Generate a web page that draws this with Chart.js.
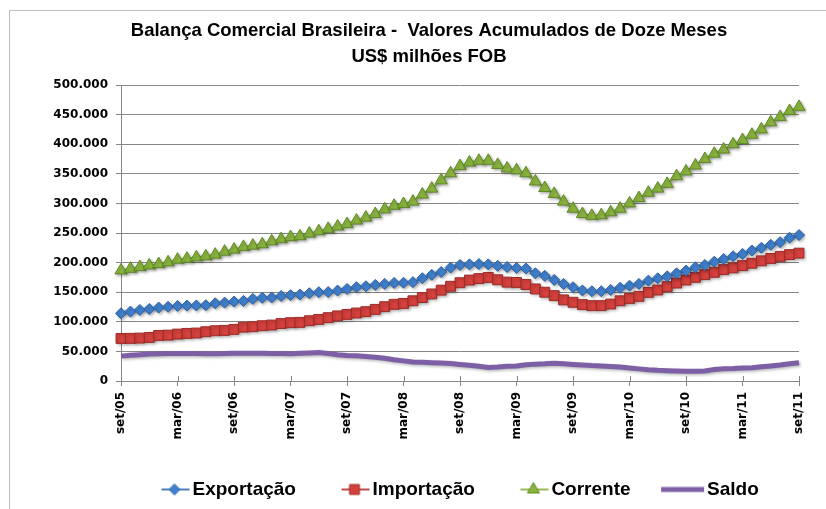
<!DOCTYPE html>
<html>
<head>
<meta charset="utf-8">
<script src="https://cdn.jsdelivr.net/npm/chart.js@4.4.1/dist/chart.umd.min.js"></script>
<style>
  html, body { margin: 0; padding: 0; background: #fff; }
  #wrap { width: 826px; height: 509px; position: relative; }
</style>
</head>
<body>
<div id="wrap"><canvas id="chart"></canvas></div>
<script>
// US$ milhões FOB, acumulado de 12 meses, set/05 .. set/11
const monthNames = ['set', 'out', 'nov', 'dez', 'jan', 'fev', 'mar', 'abr', 'mai', 'jun', 'jul', 'ago'];

const exportacao = [
  114300, 117200, 120000, 121700, 124000, 125300, 126800, 127400, 127600, 128000, 131300, 132400,
  134100, 135300, 138700, 140500, 141000, 143500,
  145000, 146000, 148200, 149900, 150200, 152700,
  155500, 158400, 160000, 162300, 164000, 165700,
  166000, 167000, 173600, 179300, 184000, 191500,
  196000, 197000, 197500, 197000, 194500, 192500,
  191000, 190000, 182000, 177600, 170800, 164000,
  158400, 153000, 151600, 151600, 153800, 157500,
  161000, 164000, 169500, 173500, 176800, 181900,
  186500, 192000, 196000, 201500, 206000, 210700,
  214700, 220400, 225000, 230000, 234500, 242000,
  246500
];

const importacao = [
  71900, 72000, 72500, 73600, 77000, 77500, 79200, 80400, 81000, 83200, 84900, 85500,
  87200, 91000, 91700, 93400, 94500, 97000,
  98500, 99000, 101800, 104000, 107000, 110000,
  112500, 114800, 117100, 121000, 125500, 129500,
  131000, 135500, 141000, 147000, 153500, 160000,
  166000, 170500, 173000, 175000, 171000, 167000,
  166500, 163000, 155500, 150000, 144200, 137000,
  133000, 129000, 127300, 127300, 130000, 135500,
  139500, 143000, 149700, 153700, 159300, 165500,
  170600, 175200, 179700, 183600, 188100, 191000,
  194900, 198900, 203000, 207000, 210500, 213500,
  216000
];

const corrente = [
  186800, 189600, 192400, 195300, 197500, 200400, 204900, 206600, 208900, 210600, 213400, 218500,
  222000, 226500, 228700, 231000, 236000, 239500,
  243000, 244500, 249000, 253000, 257000, 261000,
  265000, 271000, 276000, 282000, 290000, 296000,
  299000, 303000, 315000, 325000, 339000, 351000,
  363000, 369000, 372000, 372000, 365000, 359000,
  356000, 351000, 337000, 326000, 316000, 303000,
  291000, 282000, 279000, 280000, 285000, 291000,
  300000, 309000, 318000, 325000, 333000, 346000,
  354000, 364000, 375000, 384000, 391000, 400000,
  407000, 416000, 425000, 437000, 446000, 456000,
  463000
];

const saldo = [
  42000, 43500, 44500, 45500, 46000, 46500, 46500, 46500, 46500, 46000, 46000, 46500,
  47000, 47000, 47000, 47000, 46500, 46500,
  46000, 47000, 47500, 48000, 46500, 44500,
  43000, 42500, 41500, 40000, 38500, 36000,
  34000, 32000, 31500, 31000, 30500, 29500,
  28000, 26500, 25000, 23000, 23500, 25000,
  25500, 27500, 28500, 29000, 30000, 29000,
  28000, 27000, 26000, 25500, 24500, 23500,
  22000, 20500, 19000, 18000, 17500, 17000,
  16500, 16500, 17000, 19500, 20500, 21000,
  22000, 22500, 24000, 25500, 27000, 29000,
  31000
];

const labels = [];
for (let i = 0; i < exportacao.length; i++) {
  const yr = 5 + Math.floor((i + 8) / 12);
  labels.push(monthNames[i % 12] + '/' + String(yr).padStart(2, '0'));
}

const titleLines = ['Balança Comercial Brasileira -  Valores Acumulados de Doze Meses', 'US$ milhões FOB'];

const gridColor = '#868686';
const tickFont = { family: "'DejaVu Sans', sans-serif", size: 12, weight: 'bold' };

function fmt(v) {
  return v === 0 ? '0' : String(v).replace(/\B(?=(\d{3})+(?!\d))/g, '.');
}

// legend swatch: series line with the marker, like Excel draws it
function legendIcon(ds) {
  const c = document.createElement('canvas');
  c.width = 72;
  c.height = 18;
  const g = c.getContext('2d');
  const marker = ds.pointRadius > 0;
  g.strokeStyle = ds.borderColor;
  g.lineWidth = ds.borderWidth;
  g.beginPath();
  g.moveTo(marker ? 43 : 28, 9);
  g.lineTo(71, 9);
  g.stroke();
  if (marker) {
    g.fillStyle = ds.pointBackgroundColor;
    g.strokeStyle = ds.pointBorderColor;
    g.lineWidth = 1;
    Chart.helpers.drawPoint(g, { pointStyle: ds.pointStyle, radius: ds.pointRadius, borderWidth: 1 }, 56, 9);
  }
  return c;
}

const frame = {
  id: 'frame',
  beforeDraw(chart) {
    const ctx = chart.ctx;
    ctx.save();
    ctx.fillStyle = '#fff';
    ctx.fillRect(0, 0, chart.width, chart.height);
    ctx.strokeStyle = '#bfbfbf';
    ctx.lineWidth = 1;
    ctx.strokeRect(9.5, 10.5, 1000, 1000);
    ctx.restore();
  },
  afterLayout(chart) {
    // title and legend sit a bit right of the canvas centre, as in the original
    chart.titleBlock.left = 59;
    chart.legend.left = 116;
  },
  beforeDatasetsDraw(chart) {
    const ctx = chart.ctx;
    const x = chart.scales.x;
    ctx.save();
    ctx.strokeStyle = gridColor;
    ctx.lineWidth = 1;
    x.ticks.forEach((t, i) => {
      if (i % 6) return;
      const px = Math.round(x.getPixelForTick(i)) + 0.5;
      ctx.beginPath();
      ctx.moveTo(px, x.top - 5);
      ctx.lineTo(px, x.top);
      ctx.stroke();
    });
    ctx.restore();
    ctx.save();
    ctx.shadowColor = 'rgba(0,0,0,0.28)';
    ctx.shadowBlur = 3;
    ctx.shadowOffsetX = 1.5;
    ctx.shadowOffsetY = 1.5;
  },
  afterDatasetsDraw(chart) {
    chart.ctx.restore();
  },
};

const datasets = [
  {
    label: 'Exportação',
    data: exportacao,
    borderColor: '#4a7ebb',
    borderWidth: 2,
    pointStyle: 'rectRot',
    pointRadius: 5.5,
    pointBackgroundColor: '#3f7fcc',
    pointBorderColor: '#2f62a3',
    pointBorderWidth: 1,
  },
  {
    label: 'Importação',
    data: importacao,
    borderColor: '#be4b48',
    borderWidth: 2,
    pointStyle: 'rect',
    pointRadius: 7,
    pointBackgroundColor: '#d5413d',
    pointBorderColor: '#9c2b28',
    pointBorderWidth: 1,
  },
  {
    label: 'Corrente',
    data: corrente,
    borderColor: '#98b954',
    borderWidth: 2,
    pointStyle: 'triangle',
    pointRadius: 7,
    pointBackgroundColor: '#8bb43f',
    pointBorderColor: '#5e8a24',
    pointBorderWidth: 1,
  },
  {
    label: 'Saldo',
    data: saldo,
    borderColor: '#7d5fa5',
    borderWidth: 5,
    pointRadius: 0,
  },
];
datasets.forEach((d) => { d.tension = 0; d.fill = false; d.pointHoverRadius = d.pointRadius; });

new Chart(document.getElementById('chart'), {
  type: 'line',
  data: { labels, datasets },
  plugins: [frame],
  options: {
    responsive: true,
    maintainAspectRatio: false,
    animation: false,
    devicePixelRatio: 1,
    layout: { padding: { top: 10, right: 27, bottom: 0, left: 0 } },
    plugins: {
      tooltip: { enabled: false },
      title: {
        display: true,
        text: titleLines,
        color: '#000',
        font: { family: "'Liberation Sans', sans-serif", size: 18.5, weight: 'bold', lineHeight: '26px' },
        padding: { top: 8, bottom: 15 },
      },
      legend: {
        position: 'bottom',
        align: 'start',
        labels: {
          usePointStyle: true,
          pointStyleWidth: 57,
          padding: 10,
          color: '#000',
          font: { family: "'Liberation Sans', sans-serif", size: 19, weight: 'bold' },
          generateLabels: (chart) => chart.data.datasets.map((ds, i) => ({
            text: ds.label,
            pointStyle: legendIcon(ds),
            fillStyle: 'transparent',
            strokeStyle: 'transparent',
            lineWidth: 0,
            fontColor: '#000',
            hidden: false,
            datasetIndex: i,
          })),
        },
      },
    },
    scales: {
      x: {
        offset: false,
        afterFit: (s) => { s.height = 89; },
        grid: {
          drawOnChartArea: false,
          tickLength: 5,
          offset: false,
          color: (c) => (c.index % 6 === 0 ? gridColor : 'transparent'),
        },
        border: { display: true, color: gridColor },
        ticks: {
          autoSkip: false,
          minRotation: 90,
          maxRotation: 90,
          padding: 6,
          color: '#000',
          font: tickFont,
          callback: (v, i) => (i % 6 === 0 ? labels[i] : ''),
        },
      },
      y: {
        min: 0,
        max: 500000,
        afterFit: (s) => { s.width = 121; },
        grid: { color: gridColor, tickLength: 5 },
        border: { display: true, color: gridColor },
        ticks: {
          stepSize: 50000,
          padding: 8,
          color: '#000',
          font: tickFont,
          callback: (v) => fmt(v),
        },
      },
    },
  },
});
</script>
</body>
</html>
